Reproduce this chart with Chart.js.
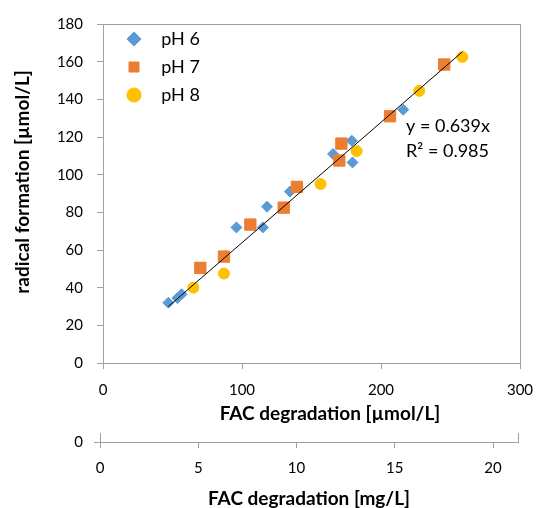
<!DOCTYPE html>
<html>
<head>
<meta charset="utf-8">
<script src="https://cdn.jsdelivr.net/npm/chart.js@4.4.1/dist/chart.umd.min.js"></script>
<style>
  html, body { margin: 0; padding: 0; background: #fff; }
  #myChart { position: absolute; left: 0; top: 0; }
  #mgChart { position: absolute; left: 0; top: 430px; }
</style>
</head>
<body>
<canvas id="myChart" width="537" height="430"></canvas>
<canvas id="mgChart" width="537" height="78"></canvas>
<script>
// values
var ph6X = [47, 53.5, 56.5, 96, 115, 118, 134.5, 165.5, 179, 179.5, 216];
var ph6Y = [32, 34.5, 36.5, 72, 72, 83, 91, 111, 118, 106.5, 134.5];
var ph7X = [70, 87, 106, 130, 139.5, 171.5, 170, 206.5, 245.5];
var ph7Y = [50.5, 56.5, 73.5, 82.5, 93.5, 116.5, 107.5, 131, 158.5];
var ph8X = [65, 87, 156.5, 182.5, 227.5, 258.5];
var ph8Y = [40, 47.5, 95, 112.5, 144.5, 162.5];
var trendX = [47, 258.5];
var trendY = [30.0, 165.2];

var yTicks = [0, 20, 40, 60, 80, 100, 120, 140, 160, 180];
var xTicks = [0, 100, 200, 300];
var mgTicks = [0, 5, 10, 15, 20];
var mgMax = 21.27;
var eqLines = ['y = 0.639x', 'R\u00b2 = 0.985'];

var axisGray = '#a0a0a0';
Chart.defaults.font.family = 'Lato';
Chart.defaults.color = '#000';

function pts(xs, ys) {
    var out = [];
    for (var i = 0; i < xs.length; i++) out.push({x: xs[i], y: ys[i]});
    return out;
}
function fixTicks(list) {
    return function(scale) { scale.ticks = list.map(function(v) { return {value: v}; }); };
}

// trendline equation, anchored in data coordinates
var eqPlugin = {
    id: 'eq',
    afterDatasetsDraw: function(chart) {
        var c = chart.ctx, xs = chart.scales.x, ys = chart.scales.y;
        c.save();
        c.font = '18px Lato';
        c.fillStyle = '#000';
        c.textAlign = 'left';
        c.textBaseline = 'middle';
        c.fillText(eqLines[0], xs.getPixelForValue(218), ys.getPixelForValue(125.5));
        c.fillText(eqLines[1], xs.getPixelForValue(218), ys.getPixelForValue(112.5));
        c.restore();
    }
};
// put the legend in the upper left corner of the plot
var legendPlace = {
    id: 'legendPlace',
    afterLayout: function(chart) {
        var lg = chart.legend, a = chart.chartArea;
        var w = lg.width, h = lg.height;
        lg.left = a.left + 12; lg.right = lg.left + w;
        lg.top = a.top - 4; lg.bottom = lg.top + h;
    }
};

var ctx = document.getElementById("myChart").getContext("2d");
var myChart = new Chart(ctx, {
    type: 'scatter',
    data: {
        datasets: [{
            label: 'pH 6',
            data: pts(ph6X, ph6Y),
            pointStyle: 'rectRot',
            pointRadius: 5.5,
            backgroundColor: '#5B9BD5',
            borderColor: '#5B9BD5',
            borderWidth: 1,
            order: 3
        }, {
            label: 'pH 7',
            data: pts(ph7X, ph7Y),
            pointStyle: 'rect',
            pointRadius: 8,
            backgroundColor: '#ED7D31',
            borderColor: '#ED7D31',
            borderWidth: 1,
            order: 2
        }, {
            label: 'pH 8',
            data: pts(ph8X, ph8Y),
            pointStyle: 'circle',
            pointRadius: 5.5,
            backgroundColor: '#FFC000',
            borderColor: '#FFC000',
            borderWidth: 1,
            order: 1
        }, {
            label: 'trend',
            type: 'line',
            data: pts(trendX, trendY),
            borderColor: '#000',
            borderWidth: 1,
            pointRadius: 0,
            fill: false,
            order: 0
        }]
    },
    options: {
        responsive: false,
        animation: false,
        layout: { padding: { top: 24, right: 17, left: 0, bottom: 0 } },
        plugins: {
            tooltip: { enabled: false },
            legend: {
                position: 'chartArea',
                align: 'start',
                reverse: true,
                labels: {
                    usePointStyle: true,
                    boxWidth: 18,
                    boxHeight: 10,
                    padding: 10,
                    font: { size: 18 },
                    filter: function(item) { return item.text.trim() !== 'trend'; },
                    generateLabels: function(chart) {
                        var items = Chart.defaults.plugins.legend.labels.generateLabels(chart);
                        items.forEach(function(it) { it.text = '  ' + it.text; });
                        return items;
                    }
                }
            }
        },
        scales: {
            x: {
                type: 'linear',
                min: 0, max: 300,
                afterBuildTicks: fixTicks(xTicks),
                afterFit: function(s) { s.height = 67; s.paddingLeft = 0; s.paddingRight = 0; },
                grid: { drawOnChartArea: false, tickLength: 6, color: axisGray },
                border: { color: axisGray },
                ticks: { padding: 12, font: { size: 15 } },
                title: {
                    display: true,
                    text: '        FAC degradation [\u00b5mol/L]',
                    font: { size: 19, weight: 'bold' },
                    padding: { top: 0, bottom: 5 }
                }
            },
            y: {
                type: 'linear',
                min: 0, max: 180,
                afterBuildTicks: fixTicks(yTicks),
                afterFit: function(s) { s.width = 103; s.paddingTop = 0; s.paddingBottom = 0; },
                grid: { drawOnChartArea: false, tickLength: 6, color: axisGray },
                border: { color: axisGray },
                ticks: { padding: 14, font: { size: 15 } },
                title: {
                    display: true,
                    text: '     radical formation [\u00b5mol/L]',
                    font: { size: 19, weight: 'bold' },
                    padding: { top: 11, bottom: 0 }
                }
            },
            xTop: {
                type: 'linear', position: 'top', min: 0, max: 300,
                afterFit: function(s) { s.height = 0; },
                ticks: { display: false },
                grid: { display: false },
                border: { color: axisGray }
            },
            yRight: {
                type: 'linear', position: 'right', min: 0, max: 180,
                afterFit: function(s) { s.width = 0; },
                ticks: { display: false },
                grid: { display: false },
                border: { color: axisGray }
            }
        }
    },
    plugins: [eqPlugin, legendPlace]
});

// second x axis in mg/L
var ctx2 = document.getElementById("mgChart").getContext("2d");
var mgChart = new Chart(ctx2, {
    type: 'scatter',
    data: { datasets: [] },
    options: {
        responsive: false,
        animation: false,
        layout: { padding: { top: 3, right: 19, left: 0, bottom: 0 } },
        plugins: { legend: { display: false }, tooltip: { enabled: false } },
        scales: {
            x: {
                type: 'linear',
                min: 0, max: mgMax,
                afterBuildTicks: fixTicks(mgTicks),
                afterFit: function(s) { s.height = 66; s.paddingLeft = 0; s.paddingRight = 0; },
                grid: { drawOnChartArea: false, tickLength: 6, color: axisGray },
                border: { color: axisGray },
                ticks: { padding: 11, font: { size: 15 } },
                title: {
                    display: true,
                    text: 'FAC degradation [mg/L]',
                    font: { size: 19, weight: 'bold', lineHeight: 1 },
                    padding: { top: 0, bottom: 0 }
                }
            },
            y: {
                type: 'linear',
                min: 0, max: 1,
                afterBuildTicks: fixTicks([0]),
                afterFit: function(s) { s.width = 100; s.paddingTop = 0; s.paddingBottom = 0; },
                grid: { drawOnChartArea: false, tickLength: 6, color: axisGray },
                border: { color: axisGray },
                ticks: { padding: 11, font: { size: 15 } }
            },
            yRight: {
                type: 'linear', position: 'right', min: 0, max: 1,
                afterFit: function(s) { s.width = 0; },
                ticks: { display: false },
                grid: { display: false },
                border: { color: axisGray }
            }
        }
    }
});
</script>
</body>
</html>
